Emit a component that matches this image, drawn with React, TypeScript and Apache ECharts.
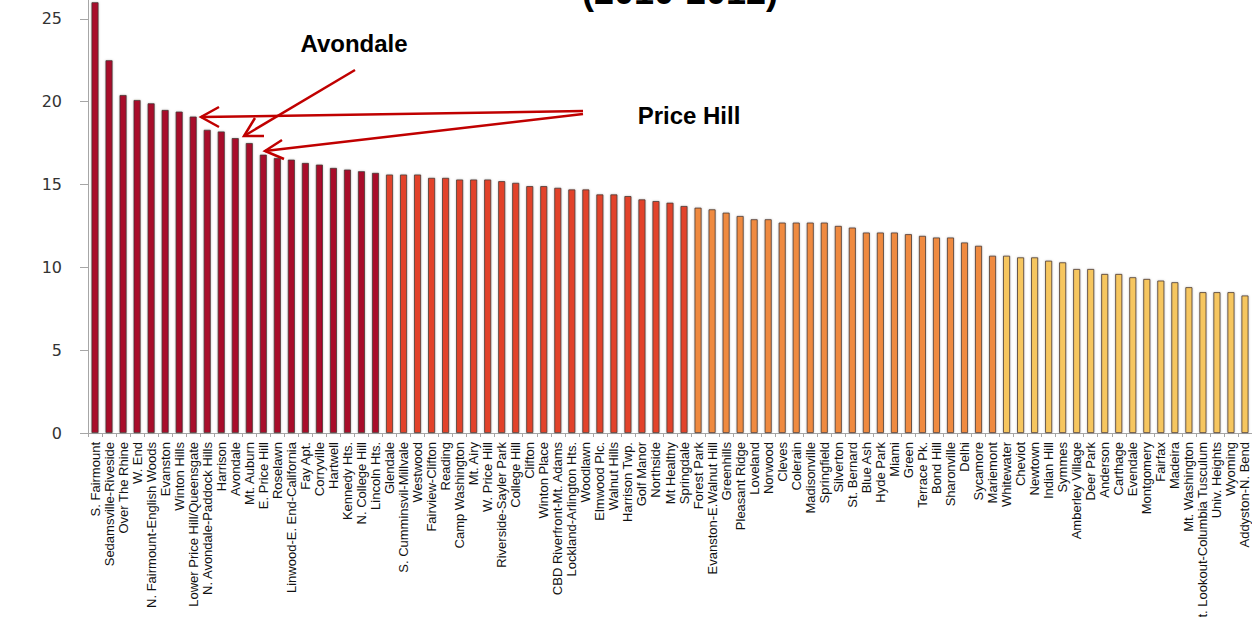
import React, { useEffect, useRef } from "react";
import * as echarts from "echarts";

const categories: string[] = [
  "S. Fairmount", "Sedamsville-Riveside", "Over The Rhine", "W. End", "N. Fairmount-English Woods",
  "Evanston", "Winton Hills", "Lower Price Hill/Queensgate", "N. Avondale-Paddock Hills", "Harrison",
  "Avondale", "Mt. Auburn", "E. Price Hill", "Roselawn", "Linwood-E. End-California",
  "Fay Apt.", "Corryville", "Hartwell", "Kennedy Hts.", "N. College Hill",
  "Lincoln Hts.", "Glendale", "S. Cumminsvil-Millvale", "Westwood", "Fairview-Clifton",
  "Reading", "Camp Washington", "Mt. Airy", "W. Price Hill", "Riverside-Sayler Park",
  "College Hill", "Clifton", "Winton Place", "CBD Riverfront-Mt. Adams", "Lockland-Arlington Hts.",
  "Woodlawn", "Elmwood Plc.", "Walnut Hills", "Harrison Twp.", "Golf Manor",
  "Northside", "Mt Healthy", "Springdale", "Forest Park", "Evanston-E.Walnut Hill",
  "Greenhills", "Pleasant Ridge", "Loveland", "Norwood", "Cleves",
  "Colerain", "Madisonville", "Springfield", "Silverton", "St. Bernard",
  "Blue Ash", "Hyde Park", "Miami", "Green", "Terrace Pk.",
  "Bond Hill", "Sharonville", "Delhi", "Sycamore", "Mariemont",
  "Whitewater", "Cheviot", "Newtown", "Indian Hill", "Symmes",
  "Amberley Village", "Deer Park", "Anderson", "Carthage", "Evendale",
  "Montgomery", "Fairfax", "Madeira", "Mt. Washington", "Mt. Lookout-Columbia Tusculum",
  "Univ. Heights", "Wyoming", "Addyston-N. Bend",
];

const values: number[] = [
  26.0, 22.5, 20.4, 20.1, 19.9,
  19.5, 19.4, 19.1, 18.3, 18.2,
  17.8, 17.5, 16.8, 16.6, 16.5,
  16.3, 16.2, 16.0, 15.9, 15.8,
  15.7, 15.6, 15.6, 15.6, 15.4,
  15.4, 15.3, 15.3, 15.3, 15.2,
  15.1, 14.9, 14.9, 14.8, 14.7,
  14.7, 14.4, 14.4, 14.3, 14.1,
  14.0, 13.9, 13.7, 13.6, 13.5,
  13.3, 13.1, 12.9, 12.9, 12.7,
  12.7, 12.7, 12.7, 12.5, 12.4,
  12.1, 12.1, 12.1, 12.0, 11.9,
  11.8, 11.8, 11.5, 11.3, 10.7,
  10.7, 10.6, 10.6, 10.4, 10.3,
  9.9, 9.9, 9.6, 9.6, 9.4,
  9.3, 9.2, 9.1, 8.8, 8.5,
  8.5, 8.5, 8.3,
];

// number of bars in each colour group, top to bottom
const groupSizes: number[] = [21, 22, 22, 18];
const groupColors: string[] = ["#A8072C", "#E2432B", "#EF8A3F", "#F6C65E"];

const yTicks: number[] = [0, 5, 10, 15, 20, 25];

function groupOf(index: number): number {
  let acc = 0;
  for (let g = 0; g < groupSizes.length; g++) {
    acc += groupSizes[g];
    if (index < acc) return g;
  }
  return groupSizes.length - 1;
}

const RED = "#C00000";

export default function App() {
  const ref = useRef<HTMLDivElement>(null);

  useEffect(() => {
    if (!ref.current) return;
    const chart = echarts.init(ref.current, null, { renderer: "svg" });

    const arrow = (x1: number, y1: number, x2: number, y2: number, w1: number[], w2: number[]) => [
      {
        type: "polyline",
        shape: { points: [[x1, y1], [x2, y2]] },
        style: { stroke: RED, lineWidth: 2.5, fill: "none" },
        z: 100,
      },
      {
        type: "polyline",
        shape: { points: [w1, [x2, y2], w2] },
        style: { stroke: RED, lineWidth: 2.5, fill: "none" },
        z: 100,
      },
    ];

    chart.setOption({
      animation: false,
      backgroundColor: "#ffffff",
      grid: {
        left: 88,
        right: 0,
        top: -64,
        bottom: 184,
        containLabel: false,
        outerBoundsMode: "none",
      },
      xAxis: {
        type: "category",
        data: categories,
        axisLine: { show: true, lineStyle: { color: "#a6a6a6", width: 1 } },
        axisTick: { show: true, length: 4, lineStyle: { color: "#a6a6a6" } },
        axisLabel: {
          interval: 0,
          rotate: 90,
          margin: 9,
          hideOverlap: false,
          fontFamily: "Liberation Sans Narrow, Liberation Sans, sans-serif",
          fontSize: 13,
          color: "#111111",
        },
      },
      yAxis: {
        type: "value",
        min: 0,
        max: 30,
        interval: 5,
        splitLine: { show: false },
        axisLine: { show: true, lineStyle: { color: "#a6a6a6", width: 1 } },
        axisTick: { show: true, length: 8, lineStyle: { color: "#a6a6a6" } },
        axisLabel: {
          margin: 26,
          fontFamily: "DejaVu Sans, sans-serif",
          fontSize: 16,
          color: "#333333",
          formatter: (v: number) => (yTicks.includes(v) ? String(v) : ""),
        },
      },
      series: [
        {
          type: "bar",
          barWidth: 7,
          data: values.map((v, i) => ({
            value: v,
            itemStyle: {
              color: groupColors[groupOf(i)],
              borderColor: "#4a3a35",
              borderWidth: 0.8,
              shadowColor: "rgba(0,0,0,0.25)",
              shadowBlur: 2,
            },
          })),
        },
      ],
      graphic: [
        {
          type: "text",
          x: 680,
          y: -9,
          style: {
            text: "(2010-2012)",
            fontFamily: "Liberation Sans, sans-serif",
            fontWeight: "bold",
            fontSize: 36,
            fill: "#000",
            align: "center",
            verticalAlign: "middle",
          },
        },
        {
          type: "text",
          x: 354,
          y: 43,
          style: {
            text: "Avondale",
            fontFamily: "Liberation Sans, sans-serif",
            fontWeight: "bold",
            fontSize: 24,
            fill: "#000",
            align: "center",
            verticalAlign: "middle",
          },
        },
        {
          type: "text",
          x: 689,
          y: 115,
          style: {
            text: "Price Hill",
            fontFamily: "Liberation Sans, sans-serif",
            fontWeight: "bold",
            fontSize: 24,
            fill: "#000",
            align: "center",
            verticalAlign: "middle",
          },
        },
        ...arrow(355, 70, 244, 136, [255, 118], [264, 136]),
        ...arrow(583, 111, 201, 117, [219, 107], [219, 127]),
        ...arrow(583, 114, 265, 151, [282, 140], [284, 159]),
      ],
    });

    return () => chart.dispose();
  }, []);

  return (
    <div
      ref={ref}
      style={{ position: "fixed", left: 0, top: 0, width: 1252, height: 617, background: "#fff" }}
    />
  );
}
